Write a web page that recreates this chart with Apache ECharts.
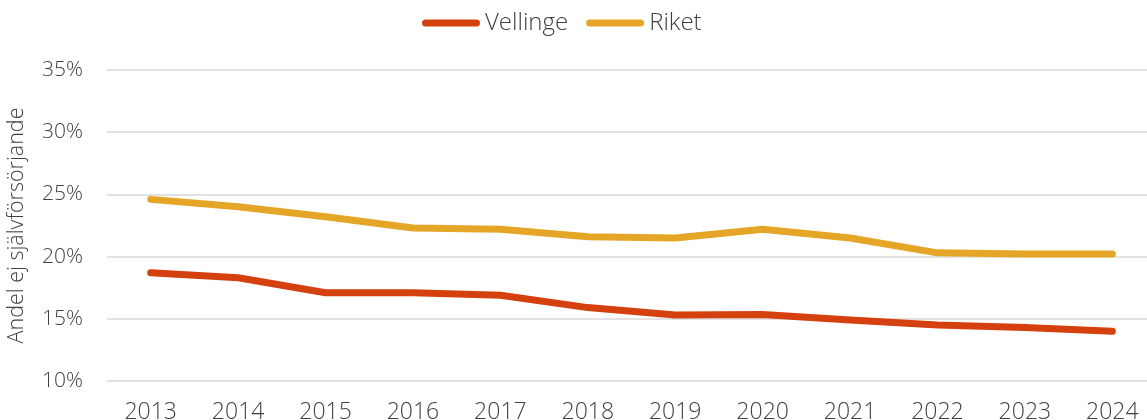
<!DOCTYPE html>
<html>
<head>
<meta charset="utf-8">
<script src="https://cdn.jsdelivr.net/npm/echarts@6/dist/echarts.min.js"></script>
<style>
  html, body { margin: 0; padding: 0; background: #ffffff; }
  #chart { width: 1147px; height: 420px; }
</style>
</head>
<body>
<div id="chart"></div>
<script>
// Andel ej självförsörjande, Vellinge jämfört med riket
const years = ['2013', '2014', '2015', '2016', '2017', '2018', '2019', '2020', '2021', '2022', '2023', '2024'];
const vellinge = [18.7, 18.3, 17.1, 17.1, 16.9, 15.9, 15.3, 15.35, 14.9, 14.5, 14.3, 14.0];
const riket = [24.6, 24.0, 23.2, 22.3, 22.2, 21.6, 21.5, 22.2, 21.5, 20.3, 20.2, 20.2];
const yTicks = { min: 10, max: 35, step: 5 };

const FONT = '"Open Sans", Lato, sans-serif';
const TEXT = '#404040';
const capsule = 'path://M3.5,0 L54.5,0 A3.5,3.5 0 0 1 54.5,7 L3.5,7 A3.5,3.5 0 0 1 3.5,0 Z';

const chart = echarts.init(document.getElementById('chart'), null, { renderer: 'canvas' });
chart.setOption({
  animation: false,
  backgroundColor: '#ffffff',
  textStyle: { fontFamily: FONT },
  legend: {
    top: 6,
    left: 417,
    itemWidth: 58,
    itemHeight: 7,
    itemGap: 18,
    textStyle: { fontFamily: FONT, fontSize: 24, fontWeight: 300, color: TEXT },
    data: [
      { name: 'Vellinge', icon: capsule },
      { name: 'Riket', icon: capsule }
    ]
  },
  // plot area runs slightly past the right edge, so the last band is cut
  grid: { left: 107, right: -9, top: 70, bottom: 39, containLabel: false, outerBoundsMode: 'none' },
  xAxis: {
    type: 'category',
    data: years,
    boundaryGap: true,
    axisLine: { show: false },
    axisTick: { show: false },
    axisLabel: { margin: 20, fontFamily: FONT, fontSize: 23, fontWeight: 300, color: TEXT }
  },
  yAxis: {
    type: 'value',
    min: yTicks.min,
    max: yTicks.max,
    interval: yTicks.step,
    name: 'Andel ej självförsörjande',
    nameLocation: 'middle',
    nameGap: 79,
    nameRotate: 90,
    nameTextStyle: { fontFamily: FONT, fontSize: 21.5, fontWeight: 300, color: TEXT },
    axisLine: { show: false },
    axisTick: { show: false },
    axisLabel: { margin: 24, fontFamily: FONT, fontSize: 21, fontWeight: 300, color: TEXT, formatter: v => v + '%' },
    splitLine: { lineStyle: { color: '#d9d9d9', width: 1.5 } }
  },
  series: [
    {
      name: 'Vellinge',
      type: 'line',
      data: vellinge,
      color: '#d5400f',
      showSymbol: false,
      symbol: 'none',
      lineStyle: { width: 7, color: '#d5400f', cap: 'round', join: 'round' }
    },
    {
      name: 'Riket',
      type: 'line',
      data: riket,
      color: '#e5a628',
      showSymbol: false,
      symbol: 'none',
      lineStyle: { width: 7, color: '#e5a628', cap: 'round', join: 'round' }
    }
  ]
});
</script>
</body>
</html>
